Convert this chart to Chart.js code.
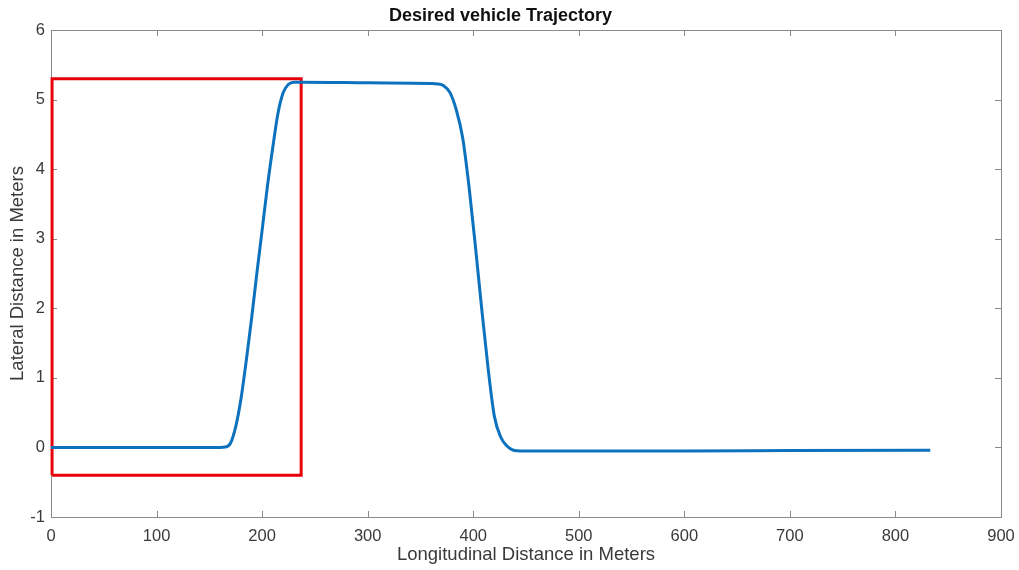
<!DOCTYPE html>
<html>
<head>
<meta charset="utf-8">
<script src="https://cdn.jsdelivr.net/npm/chart.js@4"></script>
<style>
  html, body { margin: 0; padding: 0; background: #fff; }
  #wrap { width: 1019px; height: 570px; }
</style>
</head>
<body>
<div id="wrap"><canvas id="trajChart" width="1019" height="570"></canvas></div>
<script>
// trajectory (longitudinal m, lateral m)
const trajX = [0, 100, 160, 165, 170, 175, 180, 185, 190, 195, 200, 205, 210, 215, 220, 225, 230, 236,
               300, 360, 366, 372, 378, 384, 390, 396, 402, 408, 414, 420, 426, 432, 438, 445,
               500, 600, 700, 833];
const trajY = [0, 0, 0, 0.005, 0.06, 0.3, 0.7, 1.25, 1.85, 2.5, 3.12, 3.75, 4.3, 4.8, 5.1, 5.22, 5.25, 5.25,
               5.24, 5.23, 5.225, 5.2, 5.1, 4.85, 4.45, 3.75, 2.9, 2.0, 1.15, 0.45, 0.15, 0.02, -0.04, -0.05,
               -0.05, -0.05, -0.045, -0.04];

// red highlight box corners
const boxX = [1, 1, 237, 237, 1];
const boxY = [-0.4, 5.3, 5.3, -0.4, -0.4];

const xTicks = [0, 100, 200, 300, 400, 500, 600, 700, 800, 900];
const yTicks = [-1, 0, 1, 2, 3, 4, 5, 6];

const toPoints = (xs, ys) => xs.map((x, i) => ({ x: x, y: ys[i] }));

const FONT = 'Liberation Sans, Arial, Helvetica, sans-serif';
const AXIS_COLOR = '#8a8a8a';
const TEXT_COLOR = '#3a3a3a';

// MATLAB style box with inward ticks on all sides
const boxTicks = {
    id: 'boxTicks',
    beforeDatasetsDraw(chart) {
        const ctx = chart.ctx;
        const a = chart.chartArea;
        const xs = chart.scales.x, ys = chart.scales.y;
        const len = 6;
        ctx.save();
        ctx.strokeStyle = AXIS_COLOR;
        ctx.lineWidth = 1;
        ctx.strokeRect(a.left + 0.5, a.top + 0.5, a.right - a.left, a.bottom - a.top);
        ctx.beginPath();
        xTicks.forEach(v => {
            const px = Math.round(xs.getPixelForValue(v)) + 0.5;
            ctx.moveTo(px, a.bottom); ctx.lineTo(px, a.bottom - len);
            ctx.moveTo(px, a.top); ctx.lineTo(px, a.top + len);
        });
        yTicks.forEach(v => {
            const py = Math.round(ys.getPixelForValue(v)) + 0.5;
            ctx.moveTo(a.left, py); ctx.lineTo(a.left + len, py);
            ctx.moveTo(a.right, py); ctx.lineTo(a.right - len, py);
        });
        ctx.stroke();
        ctx.restore();
    }
};

const ctx = document.getElementById('trajChart').getContext('2d');
new Chart(ctx, {
    type: 'line',
    data: {
        datasets: [{
            label: 'Trajectory',
            data: toPoints(trajX, trajY),
            borderColor: '#0d72bd',
            borderWidth: 3,
            pointRadius: 0,
            cubicInterpolationMode: 'monotone',
            fill: false
        }, {
            label: 'Region',
            data: toPoints(boxX, boxY),
            borderColor: '#e8000b',
            borderWidth: 3,
            pointRadius: 0,
            tension: 0,
            fill: false,
            clip: false
        }]
    },
    options: {
        responsive: false,
        animation: false,
        layout: { padding: { left: 0, right: 18, top: 0, bottom: 0 } },
        plugins: {
            legend: { display: false },
            tooltip: { enabled: false },
            title: {
                display: true,
                text: 'Desired vehicle Trajectory',
                color: '#111',
                font: { family: FONT, size: 18, weight: 'bold' },
                padding: { top: 5, bottom: 3.4 }
            }
        },
        scales: {
            x: {
                type: 'linear',
                min: 0,
                max: 900,
                afterBuildTicks: s => { s.ticks = xTicks.map(v => ({ value: v })); },
                afterFit: s => { s.height = 53; s.paddingLeft = 0; s.paddingRight = 0; },
                grid: { display: false, drawTicks: false },
                border: { display: false },
                ticks: { color: TEXT_COLOR, font: { family: FONT, size: 16.5 }, padding: 10, maxRotation: 0 },
                title: {
                    display: true,
                    text: 'Longitudinal Distance in Meters',
                    color: TEXT_COLOR,
                    font: { family: FONT, size: 18.5 },
                    padding: { top: 0, bottom: 4 }
                }
            },
            y: {
                type: 'linear',
                min: -1,
                max: 6,
                afterBuildTicks: s => { s.ticks = yTicks.map(v => ({ value: v })); },
                afterFit: s => { s.width = 51; s.paddingTop = 0; s.paddingBottom = 0; },
                grid: { display: false, drawTicks: false },
                border: { display: false },
                ticks: { color: TEXT_COLOR, font: { family: FONT, size: 16.5 }, padding: 6 },
                title: {
                    display: true,
                    text: 'Lateral Distance in Meters',
                    color: TEXT_COLOR,
                    font: { family: FONT, size: 18.5 },
                    padding: { top: 7, bottom: 0 }
                }
            }
        }
    },
    plugins: [boxTicks]
});
</script>
</body>
</html>
